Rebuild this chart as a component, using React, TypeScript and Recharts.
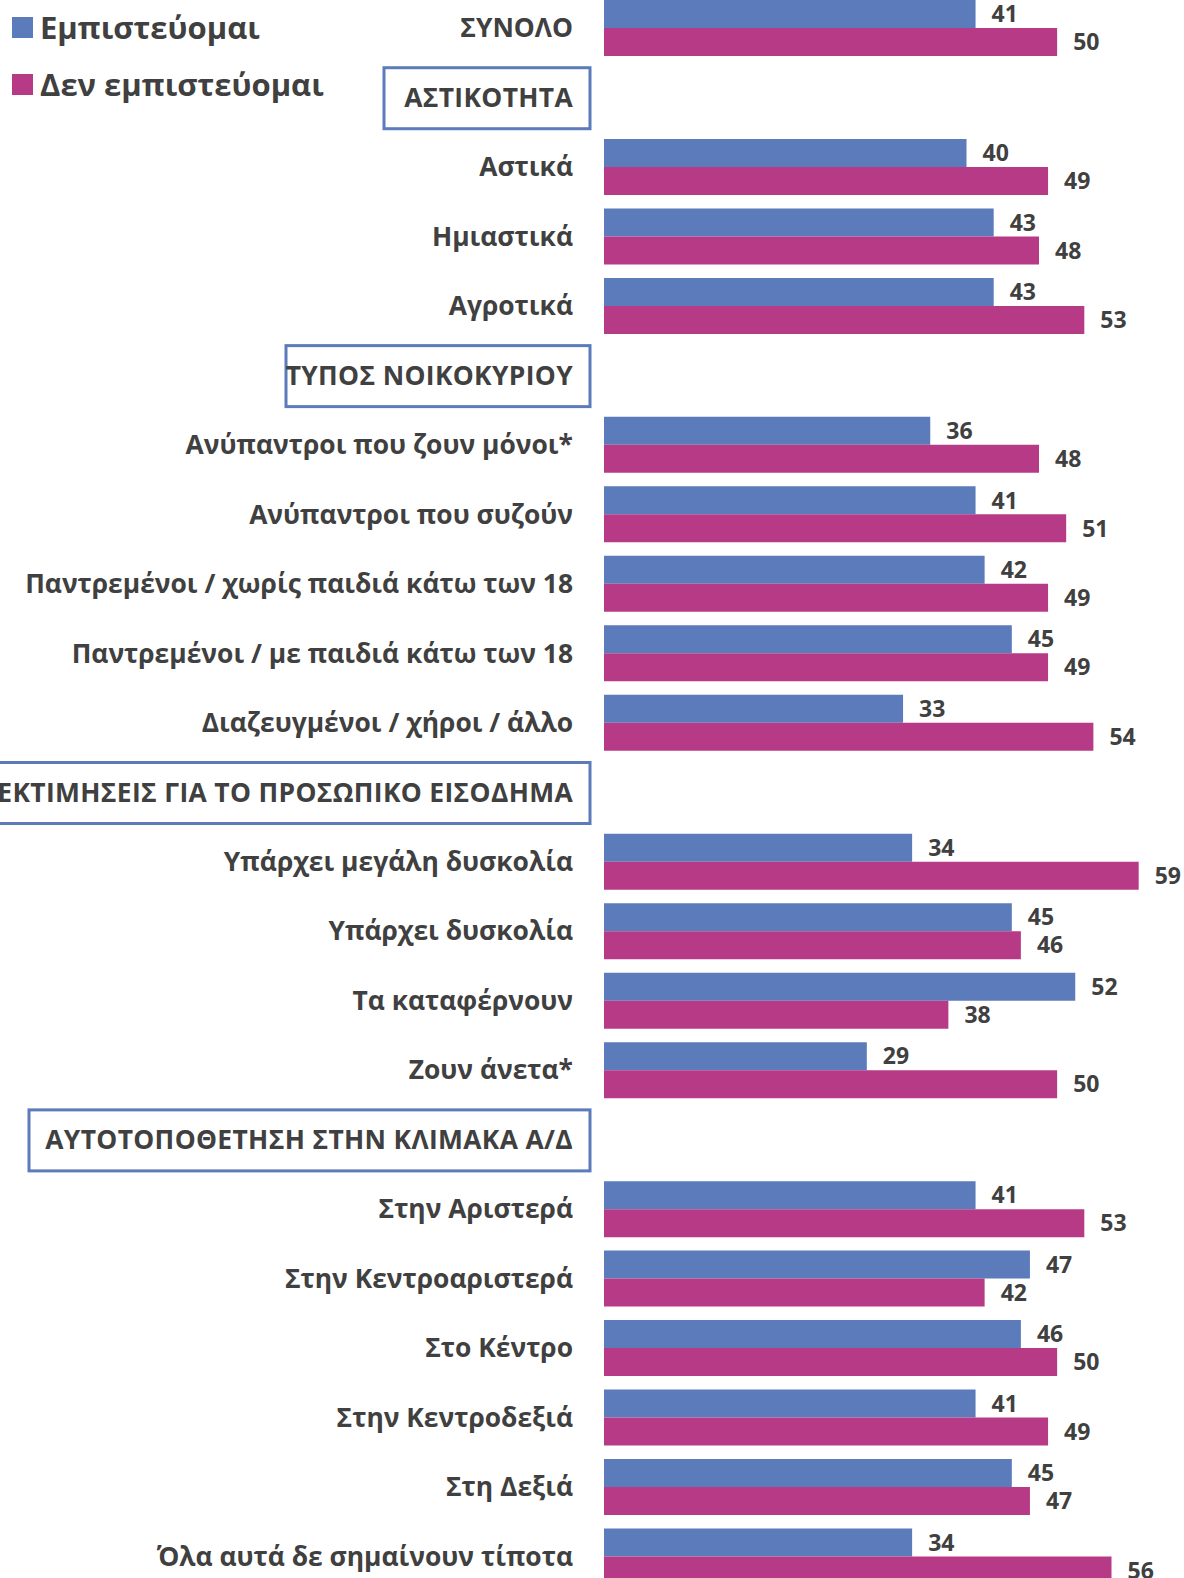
import React from 'react';
import { Bar, BarChart, LabelList, Legend, XAxis, YAxis } from 'recharts';

// Colours.
const C = {
  trust: '#5B7BBA',
  noTrust: '#B73A87',
  ink: '#404040',
  box: '#5B7BBB',
};
const FONT = '"Open Sans", "Noto Sans", sans-serif';

const categories = [
  'ΣΥΝΟΛΟ',
  'ΑΣΤΙΚΟΤΗΤΑ',
  'Αστικά',
  'Ημιαστικά',
  'Αγροτικά',
  'ΤΥΠΟΣ ΝΟΙΚΟΚΥΡΙΟΥ',
  'Ανύπαντροι που ζουν μόνοι*',
  'Ανύπαντροι που συζούν',
  'Παντρεμένοι / χωρίς παιδιά κάτω των 18',
  'Παντρεμένοι / με παιδιά κάτω των 18',
  'Διαζευγμένοι / χήροι / άλλο',
  'ΕΚΤΙΜΗΣΕΙΣ ΓΙΑ ΤΟ ΠΡΟΣΩΠΙΚΟ ΕΙΣΟΔΗΜΑ',
  'Υπάρχει μεγάλη δυσκολία',
  'Υπάρχει δυσκολία',
  'Τα καταφέρνουν',
  'Ζουν άνετα*',
  'ΑΥΤΟΤΟΠΟΘΕΤΗΣΗ ΣΤΗΝ ΚΛΙΜΑΚΑ Α/Δ',
  'Στην Αριστερά',
  'Στην Κεντροαριστερά',
  'Στο Κέντρο',
  'Στην Κεντροδεξιά',
  'Στη Δεξιά',
  'Όλα αυτά δε σημαίνουν τίποτα',
];

// null = section header row (no bars)
const trustValues = [41, null, 40, 43, 43, null, 36, 41, 42, 45, 33, null, 34, 45, 52, 29, null, 41, 47, 46, 41, 45, 34];
const noTrustValues = [50, null, 49, 48, 53, null, 48, 51, 49, 49, 54, null, 59, 46, 38, 50, null, 53, 42, 50, 49, 47, 56];

const seriesNames = ['Εμπιστεύομαι', 'Δεν εμπιστεύομαι'];

// left edge of each section box (boxes all end just left of the bars)
const headerBoxLeft: Record<string, number> = {
  'ΑΣΤΙΚΟΤΗΤΑ': 384,
  'ΤΥΠΟΣ ΝΟΙΚΟΚΥΡΙΟΥ': 286,
  'ΕΚΤΙΜΗΣΕΙΣ ΓΙΑ ΤΟ ΠΡΟΣΩΠΙΚΟ ΕΙΣΟΔΗΜΑ': -10,
  'ΑΥΤΟΤΟΠΟΘΕΤΗΣΗ ΣΤΗΝ ΚΛΙΜΑΚΑ Α/Δ': 29,
};

const data = categories.map((name, i) => ({
  name,
  trust: trustValues[i],
  noTrust: noTrustValues[i],
}));

const LABEL_RIGHT = 573;
const BOX_RIGHT = 590;
const TOP = -7;

function CategoryTick(props: any) {
  const { y, payload } = props;
  const name: string = payload.value;
  const boxLeft = headerBoxLeft[name];
  const isHeader = boxLeft !== undefined;
  return (
    <g>
      {isHeader && (
        <rect
          x={boxLeft}
          y={y - 29.5}
          width={BOX_RIGHT - boxLeft}
          height={61}
          fill="#fff"
          stroke={C.box}
          strokeWidth={3}
        />
      )}
      <text
        x={LABEL_RIGHT}
        y={y}
        dy="0.36em"
        textAnchor="end"
        fill={C.ink}
        style={{ fontFamily: FONT, fontWeight: 700, fontSize: 26.4, letterSpacing: isHeader ? 0.35 : 0 }}
      >
        {name}
      </text>
    </g>
  );
}

function LegendBox() {
  const colors = [C.trust, C.noTrust];
  return (
    <div style={{ position: 'absolute', left: 12, top: -1.5 }}>
      {seriesNames.map((s, i) => (
        <div key={s} style={{ display: 'flex', alignItems: 'center', height: 57.6 }}>
          <span style={{ width: 21, height: 21, background: colors[i], display: 'inline-block', marginRight: 7 }} />
          <span style={{ fontFamily: FONT, fontWeight: 700, fontSize: 31, color: C.ink, lineHeight: 1 }}>{s}</span>
        </div>
      ))}
    </div>
  );
}

export default function App() {
  return (
    <div style={{ position: 'absolute', left: 0, top: 0, width: 1184, height: 1578, overflow: 'hidden', background: '#fff' }}>
      <div style={{ position: 'absolute', left: 0, top: TOP }}>
        <BarChart
          width={1184}
          height={1598}
          layout="vertical"
          data={data}
          margin={{ top: 0, right: 0, left: 0, bottom: 0 }}
          barGap={0}
        >
          <XAxis type="number" domain={[0, 64]} hide />
          <YAxis
            type="category"
            dataKey="name"
            width={604}
            interval={0}
            axisLine={false}
            tickLine={false}
            tick={<CategoryTick />}
          />
          <Legend content={<LegendBox />} wrapperStyle={{ position: 'absolute', left: 0, top: -TOP }} />
          <Bar dataKey="trust" name={seriesNames[0]} fill={C.trust} barSize={28} isAnimationActive={false}>
            <LabelList
              dataKey="trust"
              position="right"
              offset={16}
              formatter={(v: any) => (v == null ? '' : v)}
              style={{ fontFamily: FONT, fontWeight: 700, fontSize: 23, fill: C.ink }}
            />
          </Bar>
          <Bar dataKey="noTrust" name={seriesNames[1]} fill={C.noTrust} barSize={28} isAnimationActive={false}>
            <LabelList
              dataKey="noTrust"
              position="right"
              offset={16}
              formatter={(v: any) => (v == null ? '' : v)}
              style={{ fontFamily: FONT, fontWeight: 700, fontSize: 23, fill: C.ink }}
            />
          </Bar>
        </BarChart>
      </div>
    </div>
  );
}
